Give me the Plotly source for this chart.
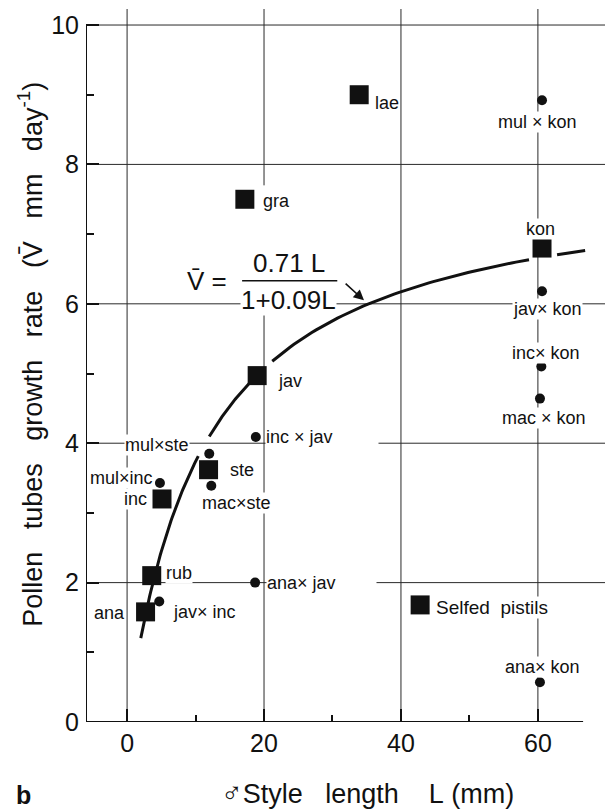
import numpy as np
import plotly.graph_objects as go

# Fitted relation  v = a L / (1 + b L)
FIT_A = 0.71
FIT_B = 0.09
# pieces of the fitted curve that are drawn (L from, L to)
CURVE_PIECES = [(2.0, 10.4), (12.0, 19.0), (21.2, 58.7), (62.8, 66.9)]

# Pure species (squares)
species = ["lae", "gra", "kon", "jav", "ste", "inc", "rub", "ana"]
species_L = [33.9, 17.2, 60.6, 19.0, 11.9, 5.1, 3.6, 2.7]
species_v = [9.0, 7.5, 6.8, 4.97, 3.62, 3.2, 2.1, 1.58]

# Selfed pistils key square
selfed_label = "Selfed\u00a0\u00a0pistils"
selfed_L = [42.8]
selfed_v = [1.68]

# Interspecific crosses (dots)
crosses = ["mul × kon", "jav× kon", "inc× kon", "mac × kon", "ana× kon",
           "inc × jav", "ana× jav", "mul×ste", "mac×ste", "mul×inc", "jav× inc"]
cross_L = [60.6, 60.6, 60.5, 60.3, 60.3, 18.8, 18.7, 12.0, 12.3, 4.8, 4.7]
cross_v = [8.92, 6.18, 5.10, 4.64, 0.57, 4.09, 2.0, 3.85, 3.39, 3.43, 1.73]

# Axis ticks
x_major = [0, 20, 40, 60]
x_minor = [10, 30, 50]
y_major = [0, 2, 4, 6, 8, 10]
y_minor = [1, 3, 5, 7, 9]

X_RANGE = [-6.0, 69.8]
Y_RANGE = [0.0, 10.23]
X_AXIS_END = 66.6

FONT = "Liberation Sans"
INK = "#111111"
NB = "\u00a0"

# label placement: (xanchor, xshift px, yshift px, trailing white padding)
species_pos = {
    "lae": ("left", 15, -8, 0), "gra": ("left", 17, -2, 0), "kon": ("center", -2, 19, 0),
    "jav": ("left", 20, -5, 0), "ste": ("left", 20, 0, 0), "inc": ("right", -14, 0, 0),
    "rub": ("left", 13, 3, 0), "ana": ("right", -20, -1, 0),
}
cross_pos = {
    "mul × kon": ("center", -5, -22, 0), "jav× kon": ("center", 5, -18, 0),
    "inc× kon": ("center", 5, 14, 0), "mac × kon": ("center", 4, -19, 0),
    "ana× kon": ("center", 3, 15, 0), "inc × jav": ("left", 9, 0, 9),
    "ana× jav": ("left", 11, 0, 8), "mul×ste": ("center", -52, 9, 0),
    "mac×ste": ("center", 25, -17, 0), "mul×inc": ("center", -38, 5, 0),
    "jav× inc": ("left", 13, -11, 0),
}

fig = go.Figure()

# fitted curve, drawn in pieces
cx, cy = [], []
for lo, hi in CURVE_PIECES:
    L = np.linspace(lo, hi, 60)
    cx += list(L) + [None]
    cy += list(FIT_A * L / (1 + FIT_B * L)) + [None]
fig.add_trace(go.Scatter(x=cx, y=cy, mode="lines",
                         line=dict(color=INK, width=3), hoverinfo="skip"))

fig.add_trace(go.Scatter(x=cross_L, y=cross_v, mode="markers",
                         marker=dict(symbol="circle", size=10, color=INK)))
fig.add_trace(go.Scatter(x=species_L + selfed_L, y=species_v + selfed_v,
                         mode="markers",
                         marker=dict(symbol="square", size=19, color=INK)))

lab_font = dict(size=18, family=FONT, color=INK)
ann = []
for names, Ls, vs, pos in ((species, species_L, species_v, species_pos),
                           (crosses, cross_L, cross_v, cross_pos)):
    for name, L, v in zip(names, Ls, vs):
        xa, dx, dy, pad = pos[name]
        ann.append(dict(x=L, y=v, text=name + NB * pad, showarrow=False, xanchor=xa,
                        xshift=dx, yshift=dy, bgcolor="white", borderpad=0,
                        font=lab_font))
ann.append(dict(x=selfed_L[0], y=selfed_v[0], text=selfed_label, showarrow=False,
                xanchor="left", xshift=15, yshift=-3, bgcolor="white", borderpad=0,
                font=dict(size=19, family=FONT, color=INK)))

# equation of the fitted curve
eq_font = dict(size=26, family=FONT, color=INK)
ann.append(dict(x=11.6, y=6.33, text="V\u0304" + NB + "=", showarrow=False,
                xanchor="center", yanchor="middle", font=eq_font))
ann.append(dict(x=23.6, y=6.58, text="0.71" + NB + "L", showarrow=False,
                xanchor="center", yanchor="middle", font=eq_font))
ann.append(dict(x=23.6, y=6.05, text="1+0.09L", showarrow=False,
                xanchor="center", yanchor="middle", bgcolor="white",
                borderpad=0, font=eq_font))
ann.append(dict(x=34.6, y=6.05, ax=31.7, ay=6.31, axref="x", ayref="y",
                text="", showarrow=True, arrowhead=2, arrowsize=1.3,
                arrowwidth=1.6, arrowcolor=INK))

# axis titles and panel letter
sp3 = NB * 3
ann.append(dict(x=0, y=0.515, xref="paper", yref="paper", xshift=-56,
                text="Pollen" + sp3 + "tubes" + sp3 + "growth" + sp3 + "rate" + sp3 +
                     "(V\u0304" + sp3 + "mm" + sp3 + "day<sup>-1</sup>)",
                textangle=-90, showarrow=False, xanchor="center", yanchor="middle",
                font=dict(size=27, family=FONT, color=INK)))
ann.append(dict(x=0.543, y=0, xref="paper", yref="paper", yshift=-71,
                text="<span style='font-size:29px'>\u2642</span>Style" + sp3 +
                     "length" + sp3 + NB + "L" + NB + "(mm)",
                showarrow=False, xanchor="center", yanchor="middle",
                font=dict(size=27, family=FONT, color=INK)))
ann.append(dict(x=-0.121, y=0, xref="paper", yref="paper", yshift=-73,
                text="<b>b</b>", showarrow=False, xanchor="center", yanchor="middle",
                font=dict(size=25, family=FONT, color=INK)))

grid_line = dict(color="#2a2a2a", width=1)
shapes = []
for xv in x_major:
    shapes.append(dict(type="line", xref="x", yref="paper", x0=xv, x1=xv, y0=0, y1=1,
                       line=grid_line, layer="below"))
for yv in y_major[1:]:
    shapes.append(dict(type="line", xref="paper", yref="y", x0=0, x1=1, y0=yv, y1=yv,
                       line=grid_line, layer="below"))
# break in the L = 20 grid line behind the equation
shapes.append(dict(type="rect", xref="x", yref="y", x0=19.5, x1=20.5, y0=6.1, y1=7.7,
                   fillcolor="white", line=dict(width=0), layer="below"))
# fraction bar of the equation
shapes.append(dict(type="line", xref="x", yref="y", x0=16.8, x1=30.7, y0=6.33, y1=6.33,
                   line=dict(color=INK, width=1.5)))
# axis lines
shapes.append(dict(type="line", xref="x", yref="y", x0=X_RANGE[0], x1=X_AXIS_END,
                   y0=0, y1=0, line=dict(color=INK, width=2)))
shapes.append(dict(type="line", xref="x", yref="y", x0=X_RANGE[0], x1=X_RANGE[0],
                   y0=0, y1=y_major[-1], line=dict(color=INK, width=2)))

fig.update_layout(
    width=614, height=812,
    margin=dict(l=86, r=9, t=9, b=90),
    paper_bgcolor="white", plot_bgcolor="white",
    showlegend=False,
    annotations=ann, shapes=shapes,
    xaxis=dict(range=X_RANGE, tickvals=x_major, ticks="inside", ticklen=13,
               tickwidth=2, tickcolor=INK, showgrid=False, zeroline=False,
               showline=False, ticklabelstandoff=4,
               tickfont=dict(size=25, family=FONT, color=INK),
               minor=dict(tickvals=x_minor, ticks="inside", ticklen=7,
                          tickwidth=2, tickcolor=INK, showgrid=False)),
    yaxis=dict(range=Y_RANGE, tickvals=y_major, ticks="inside", ticklen=13,
               tickwidth=2, tickcolor=INK, showgrid=False, zeroline=False,
               showline=False, ticklabelstandoff=6,
               tickfont=dict(size=25, family=FONT, color=INK),
               minor=dict(tickvals=y_minor, ticks="inside", ticklen=8,
                          tickwidth=1.5, tickcolor=INK, showgrid=False)),
)

fig.write_html("out.html")
